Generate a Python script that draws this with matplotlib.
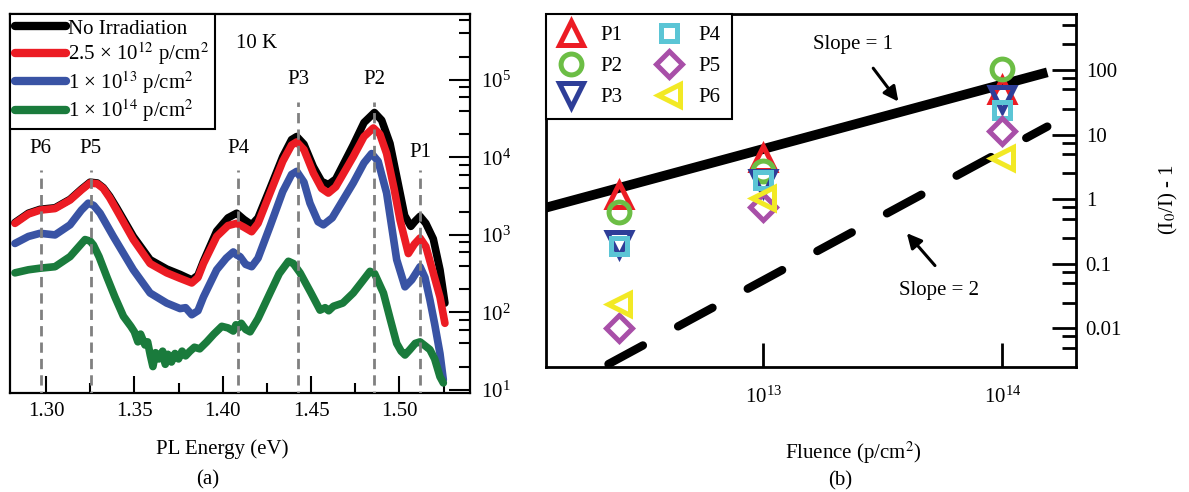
import matplotlib
matplotlib.use('Agg')
import matplotlib.pyplot as plt
from matplotlib import ticker

plt.rcParams['font.family'] = ['Liberation Serif', 'DejaVu Serif']
plt.rcParams['mathtext.fontset'] = 'stix'

# ---------------- data: panel (a) PL spectra ----------------
energy_black = [1.2824, 1.2900, 1.2966, 1.3051, 1.3136, 1.3200, 1.3249, 1.3290, 1.3324, 1.3360,
                1.3400, 1.3494, 1.3589, 1.3683, 1.3759, 1.3825, 1.3860, 1.3891, 1.3966, 1.4030,
                1.4079, 1.4120, 1.4164, 1.4200, 1.4268, 1.4340, 1.4390, 1.4419, 1.4460, 1.4513,
                1.4560, 1.4598, 1.4640, 1.4739, 1.4800, 1.4859, 1.4900, 1.4947, 1.4990, 1.5030,
                1.5065, 1.5090, 1.5117, 1.5150, 1.5192, 1.5230, 1.5258]
pl_black = [1445, 1905, 2140, 2240, 2880, 3890, 4790, 4680, 4070, 3160,
            2240, 955, 479, 363, 309, 263, 302, 457, 1120, 1660,
            1905, 1585, 1350, 1660, 3980, 10230, 16980, 18620, 14790, 7590,
            4900, 4470, 5250, 14450, 28180, 38020, 30200, 15140, 5010, 1780,
            1290, 1510, 1740, 1410, 891, 355, 132]

energy_red = [1.2824, 1.2900, 1.2966, 1.3051, 1.3136, 1.3200, 1.3249, 1.3290, 1.3324, 1.3360,
              1.3400, 1.3494, 1.3589, 1.3683, 1.3759, 1.3825, 1.3860, 1.3891, 1.3966, 1.4030,
              1.4079, 1.4120, 1.4164, 1.4200, 1.4268, 1.4340, 1.4390, 1.4419, 1.4460, 1.4513,
              1.4560, 1.4598, 1.4640, 1.4739, 1.4800, 1.4853, 1.4890, 1.4928, 1.4970, 1.5004,
              1.5051, 1.5085, 1.5117, 1.5150, 1.5192, 1.5230, 1.5258]
pl_red = [1410, 1860, 2090, 2190, 2820, 3800, 4680, 4570, 3980, 3020,
          2090, 871, 427, 324, 275, 240, 282, 427, 955, 1320,
          1410, 1260, 1100, 1410, 3470, 8910, 14450, 15850, 12600, 6310,
          3980, 3470, 4170, 10230, 18600, 24000, 19950, 11220, 3980, 1550,
          575, 759, 912, 708, 324, 158, 72.4]

energy_blue = [1.2824, 1.2900, 1.2966, 1.3051, 1.3136, 1.3200, 1.3239, 1.3270, 1.3306, 1.3381,
               1.3494, 1.3589, 1.3683, 1.3759, 1.3790, 1.3825, 1.3860, 1.3891, 1.3966, 1.4020,
               1.4060, 1.4080, 1.4098, 1.4130, 1.4164, 1.4200, 1.4268, 1.4340, 1.4390, 1.4419,
               1.4460, 1.4494, 1.4540, 1.4570, 1.4620, 1.4739, 1.4800, 1.4843, 1.4880, 1.4928,
               1.4985, 1.5032, 1.5070, 1.5117, 1.5145, 1.5173, 1.5200, 1.5230, 1.5249]
pl_blue = [776, 955, 1050, 1000, 1350, 2090, 2570, 2400, 1905, 955,
           355, 178, 132, 112, 115, 93.3, 105, 158, 355, 501,
           603, 550, 525, 417, 389, 501, 1290, 3630, 6030, 6610,
           4790, 2570, 1480, 1350, 1660, 4680, 8510, 11220, 8910, 3470,
           479, 214, 263, 389, 282, 145, 70.8, 29.5, 13.5]

energy_green = [1.2824, 1.2900, 1.2966, 1.3051, 1.3136, 1.3221, 1.3250, 1.3268, 1.3300, 1.3344,
                1.3390, 1.3438, 1.3480, 1.3500, 1.3520, 1.3535, 1.3560, 1.3575, 1.3590, 1.3605,
                1.3620, 1.3640, 1.3660, 1.3675, 1.3690, 1.3710, 1.3730, 1.3750, 1.3770, 1.3790,
                1.3815, 1.3840, 1.3870, 1.3910, 1.3950, 1.3995, 1.4030, 1.4060, 1.4075, 1.4089,
                1.4105, 1.4130, 1.4155, 1.4200, 1.4268, 1.4320, 1.4372, 1.4400, 1.4438, 1.4500,
                1.4551, 1.4580, 1.4600, 1.4627, 1.4680, 1.4739, 1.4790, 1.4834, 1.4860, 1.4910,
                1.4950, 1.4985, 1.5010, 1.5032, 1.5060, 1.5090, 1.5117, 1.5140, 1.5173, 1.5200,
                1.5230, 1.5249]
pl_green = [324, 355, 372, 389, 525, 871, 832, 741, 525, 288,
            158, 89.1, 66.1, 56.2, 41.7, 52.5, 38.0, 41.7, 28.2, 20.0,
            30.2, 25.1, 31.6, 21.4, 28.8, 22.9, 29.5, 25.1, 31.6, 27.5,
            31.6, 35.5, 33.9, 41.7, 52.5, 66.1, 63.1, 57.5, 69.2, 63.1,
            72.4, 60.3, 56.2, 83.2, 178, 316, 457, 427, 324, 178,
            107, 115, 105, 120, 132, 178, 251, 339, 316, 178,
            79.4, 39.8, 31.6, 28.2, 33.1, 39.8, 41.7, 38.0, 33.1, 25.1,
            14.8, 12.3]

series_labels = ['No Irradiation',
                 r'2.5 × 10$^{12}$ p/cm$^{2}$',
                 r'1 × 10$^{13}$ p/cm$^{2}$',
                 r'1 × 10$^{14}$ p/cm$^{2}$']

peak_names = ['P1', 'P2', 'P3', 'P4', 'P5', 'P6']
peak_energy = [1.5117, 1.4859, 1.4429, 1.4089, 1.3253, 1.2970]
peak_line_top = [6900, 52000, 52000, 6900, 6900, 6900]
peak_label_y = [11600, 100000, 100000, 13200, 13200, 13200]

# ---------------- data: panel (b) ----------------
fluence = [2.5e12, 1e13, 1e14]
ratio = {
    'P1': [1.17, 4.3, 49],
    'P2': [0.64, 2.7, 104],
    'P3': [0.20, 1.8, 35],
    'P4': [0.19, 1.97, 24],
    'P5': [0.0102, 0.76, 11.3],
    'P6': [0.0236, 1.04, 4.4],
}
slope1_fluence = [1.2e12, 1.54e14]
slope1_value = [0.72, 92]
slope2_fluence = [2.25e12, 1.54e14]
slope2_value = [0.0028, 13.3]

# ---------------- figure ----------------
W, H = 1189, 492
fig = plt.figure(figsize=(W / 100, H / 100), dpi=100)


def px_box(x0, y0, x1, y1):
    return [x0 / W, 1 - y1 / H, (x1 - x0) / W, (y1 - y0) / H]


def fpos(x, y):
    return x / W, 1 - y / H


axA = fig.add_axes(px_box(10, 14, 470, 392.7))
axB = fig.add_axes(px_box(546, 14, 1076, 366.7))

# ---- panel (a)
curve_colors = ['black', '#ec1c24', '#3953a4', '#1a7b3c']
for E, I, c, lab in zip([energy_black, energy_red, energy_blue, energy_green],
                        [pl_black, pl_red, pl_blue, pl_green],
                        curve_colors, series_labels):
    axA.plot(E, I, color=c, lw=5.5, solid_capstyle='round',
             solid_joinstyle='round', label=lab, zorder=2)

for name, e, top, ly in zip(peak_names, peak_energy, peak_line_top, peak_label_y):
    axA.plot([e, e], [1, top], color='#808080', lw=2.0,
             linestyle=(0, (3.7, 2.2)), zorder=3)
    axA.text(e, ly, name, ha='center', va='center', fontsize=15, zorder=4)

axA.set_yscale('log')
axA.set_xlim(1.2796, 1.5400)
axA.set_ylim(9.2, 7.1e5)
axA.xaxis.set_major_locator(ticker.MultipleLocator(0.05))
axA.xaxis.set_minor_locator(ticker.MultipleLocator(0.025))
axA.xaxis.set_major_formatter(ticker.FormatStrFormatter('%.2f'))
axA.yaxis.set_major_locator(ticker.LogLocator(base=10, numticks=10))
axA.yaxis.set_minor_locator(ticker.LogLocator(base=10, subs=(2, 4, 6, 8), numticks=10))
axA.yaxis.set_minor_formatter(ticker.NullFormatter())
axA.tick_params(axis='y', which='both', direction='in', left=False, right=True,
                labelleft=False, labelright=True, width=1.5, labelsize=15, pad=8)
axA.tick_params(axis='y', which='major', length=15)
axA.tick_params(axis='y', which='minor', length=8)
axA.tick_params(axis='x', which='both', direction='in', top=False, bottom=True,
                width=1.5, labelsize=15, pad=7)
axA.tick_params(axis='x', which='major', length=12)
axA.tick_params(axis='x', which='minor', length=7)
for s in axA.spines.values():
    s.set_linewidth(1.6)

legA = axA.legend(loc='upper left', bbox_to_anchor=(0, 1), borderaxespad=0,
                  frameon=True, fancybox=False, edgecolor='black', framealpha=1,
                  fontsize=15, handlelength=2.45, handletextpad=0.1,
                  labelspacing=0.08, borderpad=0.25)
legA.get_frame().set_linewidth(1.5)
for ln in legA.get_lines():
    ln.set_linewidth(6)
    ln.set_solid_capstyle('round')

axA.text(1.4193, 2.95e5, '10 K', ha='center', va='center', fontsize=15)

# ---- panel (b)
marker_style = {
    'P1': ('^', '#ec1c24', 17),
    'P2': ('o', '#6cbe45', 15),
    'P3': ('v', '#2e3e98', 17),
    'P4': ('s', '#5bc5d5', 12),
    'P5': ('D', '#a84fa8', 13),
    'P6': ('<', '#f2e925', 16),
}
axB.plot(slope1_fluence, slope1_value, color='black', lw=7, solid_capstyle='butt', zorder=2)
axB.plot(slope2_fluence, slope2_value, color='black', lw=6,
         linestyle=(0, (4.7, 4.8)), dash_capstyle='round', zorder=2)
for name in peak_names:
    m, c, ms = marker_style[name]
    axB.plot(fluence, ratio[name], linestyle='none', marker=m, markersize=ms,
             markerfacecolor='none', markeredgecolor=c, markeredgewidth=3.6,
             label=name, zorder=3)

axB.set_xscale('log')
axB.set_yscale('log')
axB.set_xlim(1.233e12, 2.03e14)
axB.set_ylim(0.00255, 736)
axB.xaxis.set_major_locator(ticker.FixedLocator([1e13, 1e14]))
axB.xaxis.set_minor_locator(ticker.NullLocator())
axB.yaxis.set_major_locator(ticker.LogLocator(base=10, numticks=12))
axB.yaxis.set_minor_locator(ticker.LogLocator(base=10, subs=(2.5, 5, 7.5), numticks=12))
axB.yaxis.set_major_formatter(ticker.FuncFormatter(lambda v, p: f'{v:g}'))
axB.yaxis.set_minor_formatter(ticker.NullFormatter())
axB.tick_params(axis='y', which='both', direction='in', left=False, right=True,
                labelleft=False, labelright=True, width=2, labelsize=15, pad=7)
axB.tick_params(axis='y', which='major', length=17)
axB.tick_params(axis='y', which='minor', length=10)
axB.tick_params(axis='x', which='both', direction='in', top=False, bottom=True,
                width=2, length=17, labelsize=15, pad=14)
for s in axB.spines.values():
    s.set_linewidth(2)

legB = axB.legend(loc='upper left', bbox_to_anchor=(0, 1), borderaxespad=0, ncol=2,
                  frameon=True, fancybox=False, edgecolor='black', framealpha=1,
                  fontsize=15, handlelength=1.3, handletextpad=0.75,
                  columnspacing=1.6, labelspacing=0.55, borderpad=0.55)
legB.get_frame().set_linewidth(1.5)

axB.text(2.37e13, 245, 'Slope = 1', ha='center', va='center', fontsize=15)
axB.text(5.43e13, 0.038, 'Slope = 2', ha='center', va='center', fontsize=15)
arrow_kw = dict(arrowstyle='-|>', color='black', lw=2.2, mutation_scale=22,
                shrinkA=0, shrinkB=0)
axB.annotate('', xy=(3.67e13, 32.4), xytext=(2.88e13, 106.6), arrowprops=arrow_kw)
axB.annotate('', xy=(3.98e13, 0.298), xytext=(5.22e13, 0.0938), arrowprops=arrow_kw)

# ---- axis titles and captions
fig.text(*fpos(222, 449), 'PL Energy (eV)', ha='center', va='center', fontsize=15)
fig.text(*fpos(208, 480), '(a)', ha='center', va='center', fontsize=15)
fig.text(*fpos(853, 453), 'Fluence (p/cm$^{2}$)', ha='center', va='center', fontsize=15)
fig.text(*fpos(840, 481), '(b)', ha='center', va='center', fontsize=15)
fig.text(*fpos(1168, 200), '(I$_{0}$/I) - 1', ha='center', va='center',
         rotation=90, fontsize=15)

fig.savefig('out.png', dpi=100)
